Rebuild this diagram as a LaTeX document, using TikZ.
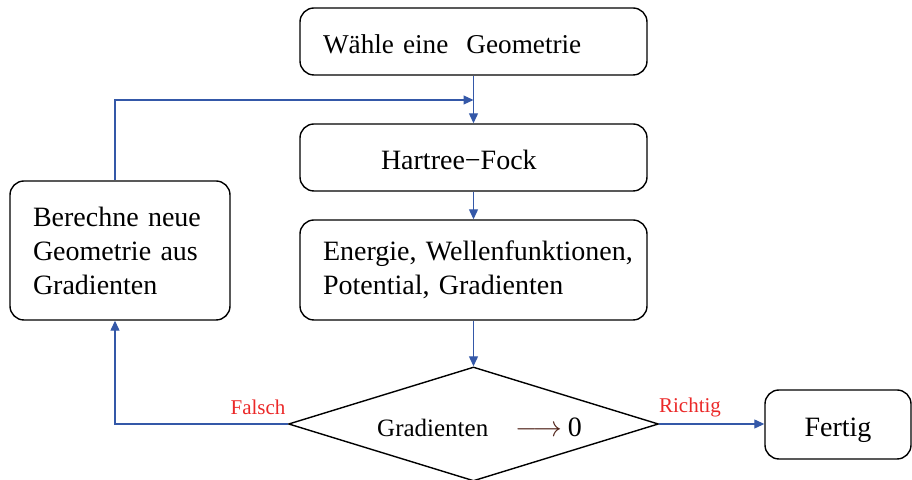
\documentclass[tikz,border=0pt]{standalone}
\usepackage{fontspec}
\setmainfont{Liberation Serif}
\usepackage{amsmath}
\usetikzlibrary{arrows.meta,shapes.geometric}

\definecolor{flowblue}{RGB}{52,88,168}
\definecolor{labelred}{RGB}{235,40,40}
\definecolor{arrowbrown}{RGB}{80,35,25}

\tikzset{
	box/.style={draw,line width=0.7pt,rounded corners=7pt,font=\fontsize{14}{17}\selectfont},
	oneline/.style={text height=12.5pt,text depth=0pt},
	flow/.style={->,flowblue,line width=0.6pt},
	answer/.style={labelred,font=\fontsize{10.5}{12}\selectfont},
}

\begin{document}
\begin{tikzpicture}[>={Triangle[length=5pt,width=4.5pt]},x=0.5pt,y=-0.5pt]
	%\draw[gray,step=50] (0,0) grid (912,480);
	\useasboundingbox (0,0) rectangle (912,480);

	\node[box,oneline,minimum width=173.5pt,minimum height=33.5pt,text width=150.5pt,align=left,inner xsep=11.5pt,font=\fontsize{13.6}{17}\selectfont] (waehle) at (473.5,41.5) {Wähle eine~ Geometrie};
	\node[box,oneline,minimum width=173.5pt,minimum height=33.5pt,text width=92.5pt,align=left,inner xsep=40.5pt] (hartree) at (473.5,157.5) {Hartree−Fock};
	\node[box,minimum width=173.5pt,minimum height=50pt,text width=150.5pt,align=left,inner xsep=11.5pt] (energie) at (473.5,270) {\mbox{Energie, Wellenfunktionen,}\\Potential, Gradienten};
	\node[box,minimum width=110pt,minimum height=69.5pt,text width=87pt,align=left,inner xsep=11.5pt] (berechne) at (120,250.5) {Berechne neue\\Geometrie aus\\Gradienten};
	\node[draw,diamond,aspect=3.25,inner sep=0pt,minimum width=185pt,minimum height=57pt,line width=0.7pt,oneline,font=\fontsize{12.5}{15}\selectfont] (test) at (473.5,424) {\hspace*{6pt}Gradienten\hspace{1.1em}{\fontsize{14}{17}\selectfont\textcolor{arrowbrown}{$\longrightarrow$}\hspace{0.2em}0}};
	\node[box,oneline,minimum width=73pt,minimum height=34.5pt] (fertig) at (838,424.5) {Fertig};

	\coordinate (merge) at (473.5,100);
	\draw[flow] (waehle) -- (hartree);
	\draw[flow] ([xshift=-2.5pt]berechne.north) |- (merge);
	\draw[flow] (hartree) -- (energie);
	\draw[flow] (energie) -- (test);
	\draw[flow] (test.west) -| ([xshift=-2.5pt]berechne.south);
	\draw[flow] (test.east) -- (test.east -| fertig.west);

	\node[answer] (falsch) at (258,407) {Falsch};
	\node[answer] (richtig) at (690,407) {Richtig};

\end{tikzpicture}
\end{document}
